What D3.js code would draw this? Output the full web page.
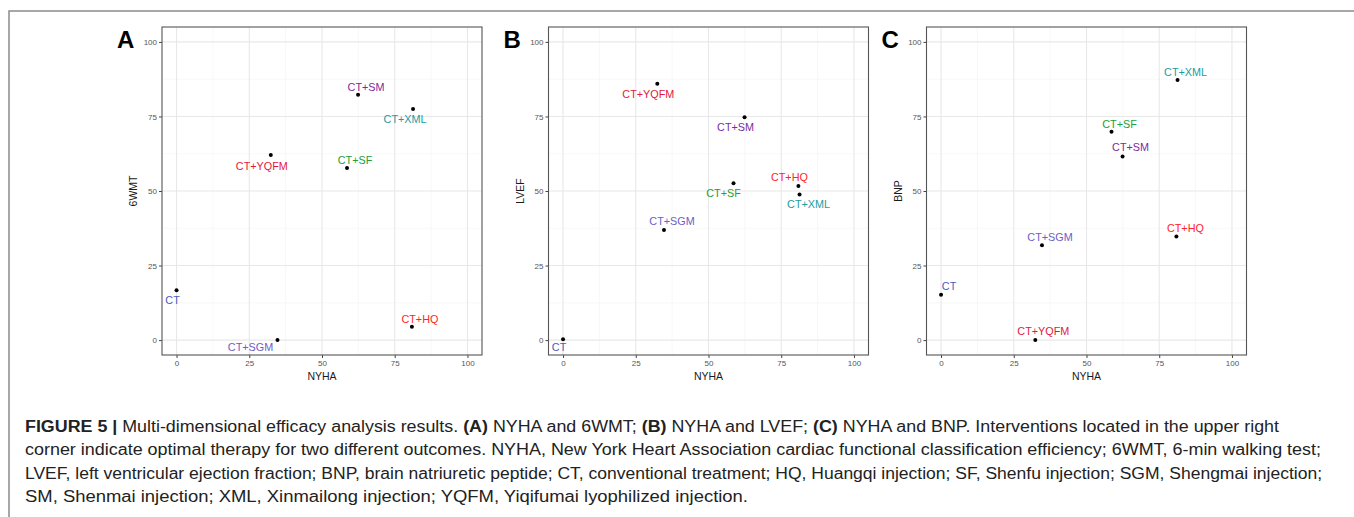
<!DOCTYPE html>
<html>
<head>
<meta charset="utf-8">
<script src="https://cdn.jsdelivr.net/npm/d3@7"></script>
<style>
  body { margin: 0; background: #fff; }
  svg { display: block; font-family: "Liberation Sans", Arial, sans-serif; }
</style>
</head>
<body>
<svg id="fig" width="1354" height="517"></svg>
<script>
// treatments and their scores
var treatments = ["CT", "CT+SGM", "CT+YQFM", "CT+SF", "CT+SM", "CT+XML", "CT+HQ"];
var nyha = [0, 34.7, 32.4, 58.6, 62.4, 81.3, 80.9];
var wmt6 = [16.7, 0, 62.1, 57.7, 82.3, 77.5, 4.5];
var lvef = [0.3, 36.9, 86.0, 52.6, 74.7, 48.8, 51.7];
var bnp = [15.2, 31.8, 0, 69.9, 61.6, 87.2, 34.7];
var ticks = [0, 25, 50, 75, 100];
var minorTicks = [12.5, 37.5, 62.5, 87.5];

var labelColors = ["#4d5bbf", "#6a60c6", "#e0183c", "#21a03b", "#7a2c9e", "#1b9ca2", "#ff2424"];

// repelled label nudges (px) per panel, same order as treatments
var nudgeA = [[-4, 10], [-27, 7], [-9, 11], [8, -8], [8, -8], [-8, 10], [8, -8]];
var nudgeB = [[-4, 8], [8, -9], [-9, 10], [-10, 10], [-9, 10], [9, 10], [-9, -9]];
var nudgeC = [[8, -9], [8, -8], [8, -9], [8, -8], [8, -9], [8, -8], [9, -9]];

var svg = d3.select("#fig");

// outer frame (top + left edges)
svg.append("path")
   .attr("d", "M9,517 L9,11 L1354,11")
   .attr("fill", "none")
   .attr("stroke", "#8a8a8a")
   .attr("stroke-width", 1.5);

var panels = [
  {letter: "A", ytitle: "6WMT", ys: wmt6, nudge: nudgeA, left: 162},
  {letter: "B", ytitle: "LVEF", ys: lvef, nudge: nudgeB, left: 548.5},
  {letter: "C", ytitle: "BNP", ys: bnp, nudge: nudgeC, left: 926.5}
];

var panelTop = 27, panelBottom = 355, pw = 320;

panels.forEach(function(p) {
  var x = d3.scaleLinear().domain([-5, 105]).range([p.left, p.left + pw]);
  var y = d3.scaleLinear().domain([-5, 105]).range([panelBottom, panelTop]);
  var g = svg.append("g");

  // grid
  g.selectAll(".vmin").data(minorTicks).join("line").attr("class", "vmin")
    .attr("x1", d => x(d)).attr("x2", d => x(d)).attr("y1", panelTop).attr("y2", panelBottom)
    .attr("stroke", "#f3f3f3").attr("stroke-width", 0.6);
  g.selectAll(".hmin").data(minorTicks).join("line").attr("class", "hmin")
    .attr("y1", d => y(d)).attr("y2", d => y(d)).attr("x1", p.left).attr("x2", p.left + pw)
    .attr("stroke", "#f3f3f3").attr("stroke-width", 0.6);
  g.selectAll(".vmaj").data(ticks).join("line").attr("class", "vmaj")
    .attr("x1", d => x(d)).attr("x2", d => x(d)).attr("y1", panelTop).attr("y2", panelBottom)
    .attr("stroke", "#e8e8e8").attr("stroke-width", 1.1);
  g.selectAll(".hmaj").data(ticks).join("line").attr("class", "hmaj")
    .attr("y1", d => y(d)).attr("y2", d => y(d)).attr("x1", p.left).attr("x2", p.left + pw)
    .attr("stroke", "#e8e8e8").attr("stroke-width", 1.1);

  // axes
  var xa = g.append("g").attr("transform", "translate(0," + panelBottom + ")")
    .call(d3.axisBottom(x).tickValues(ticks).tickSize(3).tickPadding(2));
  var ya = g.append("g").attr("transform", "translate(" + p.left + ",0)")
    .call(d3.axisLeft(y).tickValues(ticks).tickSize(3).tickPadding(2));
  [xa, ya].forEach(function(a) {
    a.select(".domain").remove();
    a.selectAll(".tick line").attr("stroke", "#444");
    a.selectAll(".tick text").attr("fill", "#555").style("font-size", "8px")
      .style("font-family", "'Liberation Sans', Arial, sans-serif");
  });

  // panel border
  g.append("rect")
    .attr("x", p.left).attr("y", panelTop).attr("width", pw).attr("height", panelBottom - panelTop)
    .attr("fill", "none").attr("stroke", "#555").attr("stroke-width", 1.1);

  // titles
  g.append("text")
    .attr("x", p.left + pw / 2).attr("y", 380)
    .attr("text-anchor", "middle").attr("font-size", 10.5).attr("fill", "#1a1a1a")
    .text("NYHA");
  g.append("text")
    .attr("transform", "translate(" + (p.left - 25) + "," + ((panelTop + panelBottom) / 2) + ") rotate(-90)")
    .attr("text-anchor", "middle").attr("font-size", 10.5).attr("fill", "#1a1a1a")
    .text(p.ytitle);
  g.append("text")
    .attr("x", p.left - 45).attr("y", 48)
    .attr("font-size", 24).attr("font-weight", "bold").attr("fill", "#000")
    .text(p.letter);

  // points
  g.selectAll("circle").data(treatments).join("circle")
    .attr("cx", (d, i) => x(nyha[i])).attr("cy", (d, i) => y(p.ys[i]))
    .attr("r", 2).attr("fill", "#000");

  // labels
  g.selectAll(".lab").data(treatments).join("text").attr("class", "lab")
    .attr("x", (d, i) => x(nyha[i]) + p.nudge[i][0])
    .attr("y", (d, i) => y(p.ys[i]) + p.nudge[i][1])
    .attr("dy", "0.36em")
    .attr("text-anchor", "middle")
    .attr("font-size", 10.8)
    .attr("fill", (d, i) => labelColors[i])
    .text(d => d);
});

// caption
var caption = [
  {w: 1254, parts: [["FIGURE 5 | ", true], ["Multi-dimensional efficacy analysis results. ", false], ["(A)", true], [" NYHA and 6WMT; ", false], ["(B)", true], [" NYHA and LVEF; ", false], ["(C)", true], [" NYHA and BNP. Interventions located in the upper right", false]]},
  {w: 1296, parts: [["corner indicate optimal therapy for two different outcomes. NYHA, New York Heart Association cardiac functional classification efficiency; 6WMT, 6-min walking test;", false]]},
  {w: 1297, parts: [["LVEF, left ventricular ejection fraction; BNP, brain natriuretic peptide; CT, conventional treatment; HQ, Huangqi injection; SF, Shenfu injection; SGM, Shengmai injection;", false]]},
  {w: 723, parts: [["SM, Shenmai injection; XML, Xinmailong injection; YQFM, Yiqifumai lyophilized injection.", false]]}
];
var baselines = [431.5, 455, 478.5, 502];

caption.forEach(function(line, i) {
  var t = svg.append("text")
    .attr("x", 25).attr("y", baselines[i])
    .attr("font-size", 16).attr("fill", "#222")
    .style("font-family", "'Liberation Sans Narrow', 'Liberation Sans', Arial, sans-serif")
    .attr("textLength", line.w).attr("lengthAdjust", "spacingAndGlyphs");
  line.parts.forEach(function(pt) {
    t.append("tspan").attr("font-weight", pt[1] ? "bold" : "normal").text(pt[0]);
  });
});
</script>
</body>
</html>
